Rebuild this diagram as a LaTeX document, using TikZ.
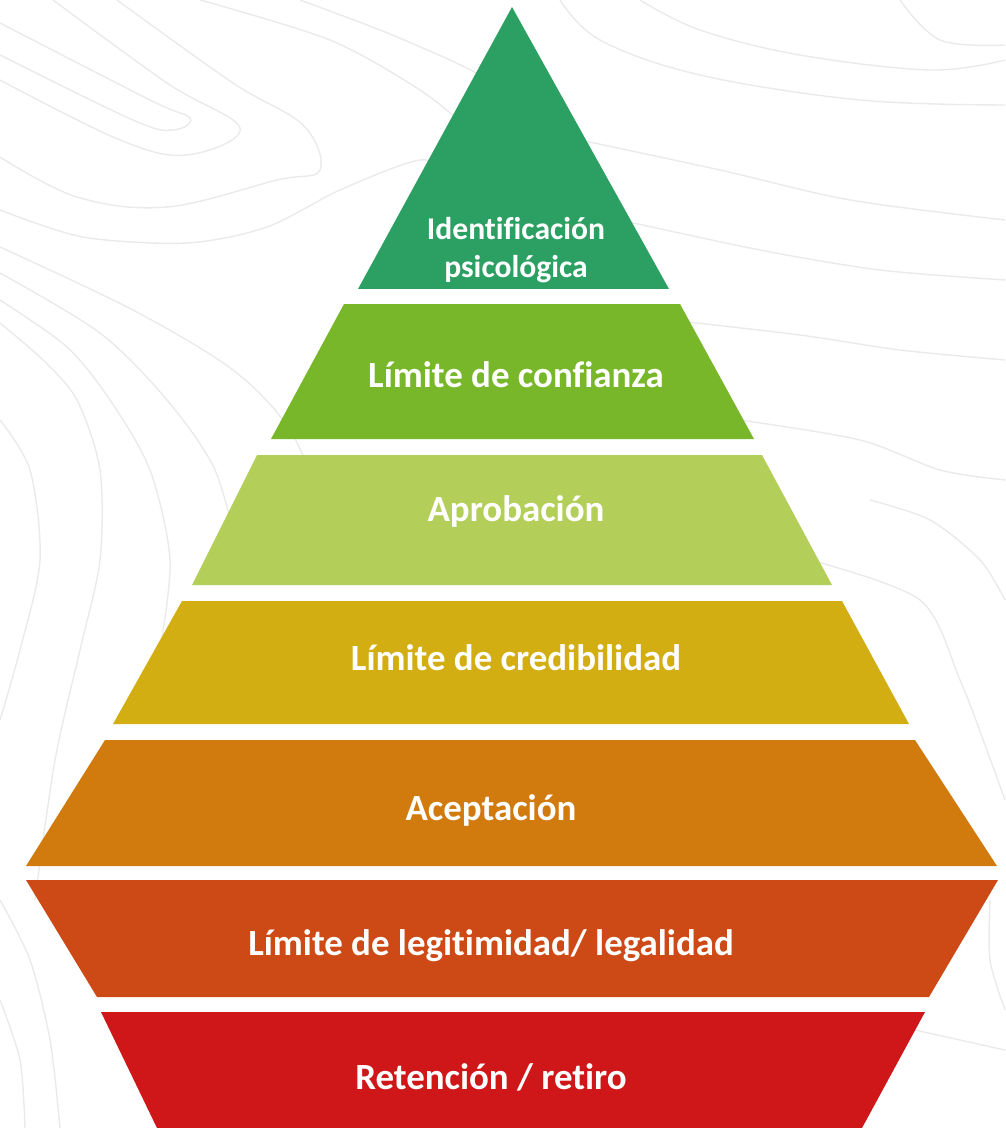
\documentclass[tikz,border=0pt]{standalone}
\usepackage{fontspec}
\setmainfont{Carlito}[Ligatures={NoCommon}]
\usetikzlibrary{positioning}
\definecolor{lvIdent}{HTML}{2CA062}
\definecolor{lvConf}{HTML}{79B72A}
\definecolor{lvAprob}{HTML}{B3CF5A}
\definecolor{lvCred}{HTML}{D2AE13}
\definecolor{lvAcep}{HTML}{D17A0E}
\definecolor{lvLegit}{HTML}{CD4915}
\definecolor{lvReten}{HTML}{CF171A}
\definecolor{topoline}{HTML}{EAEAEA}

\begin{document}
\begin{tikzpicture}[x=0.02cm,y=-0.02cm,
  lbl/.style={font=\bfseries\fontsize{21}{25}\selectfont,text=white,inner sep=0pt,anchor=base},
  lbltop/.style={font=\bfseries\fontsize{18}{21.5}\selectfont,text=white,inner sep=0pt,align=center},
  topo/.style={draw=topoline,line width=0.8pt}]
\useasboundingbox (0,0) rectangle (1005,1128);
% faint contour lines in the background
\draw[topo] plot[smooth,tension=0.6] coordinates {(0,23) (150,100) (190,118) (173,130) (133,120) (0,55)};
\draw[topo] plot[smooth,tension=0.6] coordinates {(53,0) (167,83) (240,128) (187,155) (120,140) (0,80)};
\draw[topo] plot[smooth,tension=0.6] coordinates {(117,0) (233,83) (303,125) (320,170) (277,180) (167,207) (77,197) (0,157)};
\draw[topo] plot[smooth] coordinates {(0,210) (83,237) (187,243) (267,227) (340,190) (420,160) (455,175)};
\draw[topo] plot[smooth] coordinates {(0,247) (133,310) (233,370) (290,430) (330,520)};
\draw[topo] plot[smooth] coordinates {(0,273) (100,333) (167,400) (215,470) (240,560)};
\draw[topo] plot[smooth] coordinates {(0,300) (67,347) (110,400) (150,470) (170,560) (160,650)};
\draw[topo] plot[smooth] coordinates {(0,323) (43,360) (77,400) (100,470) (100,560) (80,650) (55,760) (35,900)};
\draw[topo] plot[smooth] coordinates {(0,420) (30,470) (40,560) (20,650) (0,720)};
\draw[topo] plot[smooth] coordinates {(0,900) (30,960) (50,1040) (60,1128)};
\draw[topo] plot[smooth] coordinates {(0,1000) (20,1060) (25,1128)};
\draw[topo] plot[smooth] coordinates {(200,0) (330,40) (420,90) (470,130)};
\draw[topo] plot[smooth] coordinates {(300,0) (380,30) (450,60) (490,80)};
\draw[topo] plot[smooth,tension=0.6] coordinates {(560,0) (600,40) (700,75) (860,100) (1005,105)};
\draw[topo] plot[smooth,tension=0.6] coordinates {(640,0) (700,30) (800,55) (930,70) (1005,60)};
\draw[topo] plot[smooth,tension=0.6] coordinates {(900,0) (940,40) (1005,45)};
\draw[topo] plot[smooth] coordinates {(580,140) (720,170) (850,200) (1005,220)};
\draw[topo] plot[smooth] coordinates {(620,220) (760,250) (880,270) (1005,280)};
\draw[topo] plot[smooth] coordinates {(670,320) (800,335) (900,350) (1005,360)};
\draw[topo] plot[smooth] coordinates {(740,420) (860,440) (940,470) (1005,480)};
\draw[topo] plot[smooth] coordinates {(810,560) (920,600) (960,680) (985,745) (1005,800)};
\draw[topo] plot[smooth] coordinates {(870,500) (930,520) (980,560) (1005,600)};
\draw[topo] plot[smooth] coordinates {(990,900) (990,960) (1005,1010)};
\draw[topo] plot[smooth] coordinates {(915,1030) (960,1040) (1005,1050)};
% pyramid layers
\fill[lvIdent] (512,7) -- (669,289) -- (358,289) -- cycle;
\fill[lvConf] (344,304) -- (680,304) -- (754,439) -- (271,439) -- cycle;
\fill[lvAprob] (257,455) -- (762,455) -- (832,585) -- (192,585) -- cycle;
\fill[lvCred] (182,601) -- (842,601) -- (909,724) -- (113,724) -- cycle;
\fill[lvAcep] (105,740) -- (915,740) -- (997,866) -- (26,866) -- cycle;
\fill[lvLegit] (26,880) -- (998,880) -- (929,997) -- (97,997) -- cycle;
\fill[lvReten] (101,1012) -- (925,1012) -- (862,1128) -- (157,1128) -- cycle;
% labels
\node[lbltop] (ident) at (516,250) {Identificación\\psicológica};
\node[lbl] (conf) at (516,387) {Límite de confianza};
\node[lbl] (aprob) at (516,521) {Aprobación};
\node[lbl] (cred) at (516,670) {Límite de credibilidad};
\node[lbl] (acep) at (491,820) {Aceptación};
\node[lbl] (legit) at (491,955) {Límite de legitimidad/ legalidad};
\node[lbl] (reten) at (491,1089) {Retención / retiro};
\end{tikzpicture}
\end{document}
